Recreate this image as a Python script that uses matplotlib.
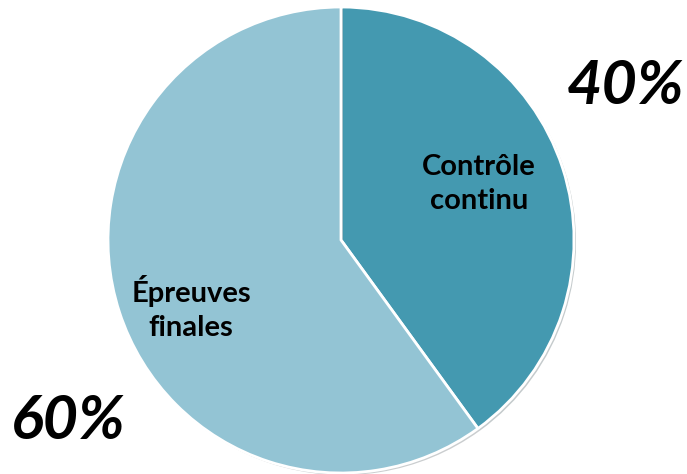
import matplotlib
matplotlib.use("Agg")
import matplotlib.pyplot as plt
import matplotlib.patheffects as pe

labels = ["Contrôle\ncontinu", "Épreuves\nfinales"]
shares = [40, 60]
colors = ["#4499B0", "#93C4D4"]
pct_text = ["40%", "60%"]

fig = plt.figure(figsize=(6.87, 4.74), dpi=100)
ax = fig.add_axes([0, 0, 1, 1])

wedges, _ = ax.pie(shares, colors=colors, startangle=90, counterclock=False,
                   center=(341, 234), radius=233, frame=True,
                   wedgeprops=dict(edgecolor="white", linewidth=2))
for w in wedges:
    w.set_path_effects([pe.SimplePatchShadow(offset=(1.5, -1.5), alpha=0.25), pe.Normal()])
ax.set_xlim(0, 687)
ax.set_ylim(0, 474)
ax.set_aspect("equal")
ax.axis("off")

font = "Lato"
ax.text(479, 290, labels[0], ha="center", va="center", fontsize=21,
        fontweight="bold", family=font, linespacing=1.4)
ax.text(191, 166, labels[1], ha="center", va="center", fontsize=21,
        fontweight="bold", family=font, linespacing=1.4)
ax.text(625, 388, pct_text[0], ha="center", va="center", fontsize=44,
        fontweight="bold", style="italic", family=font)
ax.text(68, 53, pct_text[1], ha="center", va="center", fontsize=44,
        fontweight="bold", style="italic", family=font)

fig.savefig("out.png", dpi=100)
